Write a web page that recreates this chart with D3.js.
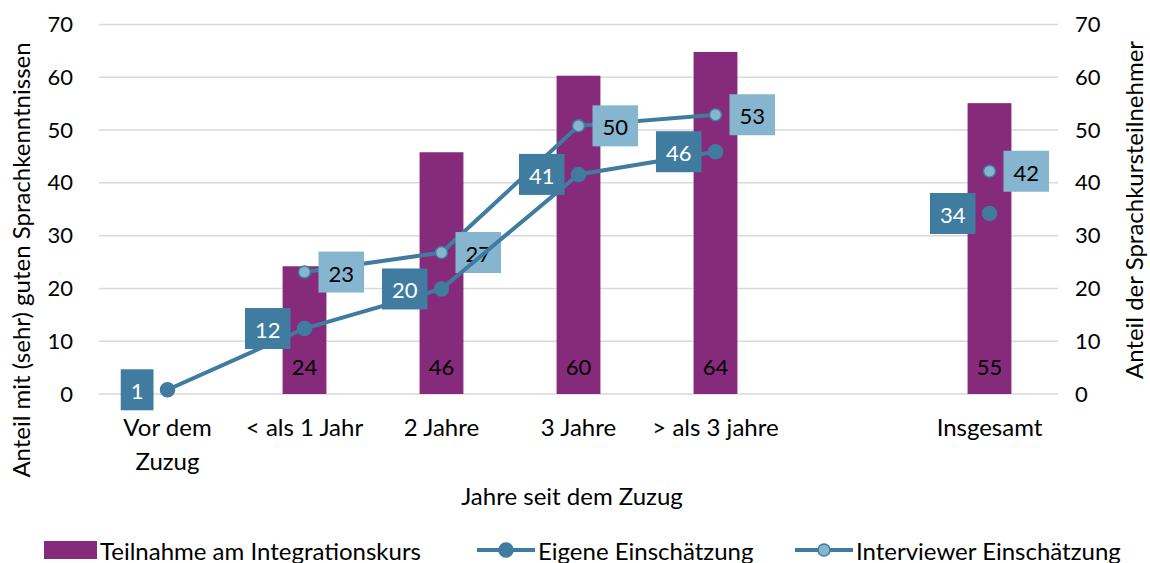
<!DOCTYPE html>
<html>
<head>
<meta charset="utf-8">
<script src="https://cdn.jsdelivr.net/npm/d3@7"></script>
<style>
  body { margin: 0; background: #fff; }
  svg text { font-family: Lato, "Open Sans", sans-serif; fill: #000; }
</style>
</head>
<body>
<div id="chart"></div>
<script>
// categories (empty slot keeps the gap before "Insgesamt")
const categories = ['Vor dem Zuzug', '< als 1 Jahr', '2 Jahre', '3 Jahre', '> als 3 jahre', '', 'Insgesamt']
const tickLabels = [['Vor dem', 'Zuzug'], ['< als 1 Jahr'], ['2 Jahre'], ['3 Jahre'], ['> als 3 jahre'], [''], ['Insgesamt']]

// series
const teilnahme = [null, 24.2, 45.8, 60.3, 64.8, null, 55.1]
const teilnahmeLabels = [null, 24, 46, 60, 64, null, 55]
const eigene = [0.8, 12.4, 19.9, 41.6, 45.9, null, 34.2]
const eigeneLabels = [1, 12, 20, 41, 46, null, 34]
const interviewer = [null, 23.1, 26.8, 50.8, 52.9, null, 42.2]
const interviewerLabels = [null, 23, 27, 50, 53, null, 42]
const yTicks = [0, 10, 20, 30, 40, 50, 60, 70]

const width = 1150
const height = 563
const margin = { top: 24.5, right: 92, bottom: 169, left: 99 }

const purple = '#862b7b'
const darkBlue = '#3f7ca0'
const lightBlue = '#86b5cf'
const numSize = 22
const textSize = 24

const svg = d3
  .select('#chart')
  .append('svg')
  .attr('width', width)
  .attr('height', height)

const x = d3
  .scaleBand()
  .domain(categories)
  .range([margin.left, width - margin.right])
  .paddingInner(0.68)
  .paddingOuter(0.34)

const y = d3
  .scaleLinear()
  .domain([0, 70])
  .range([height - margin.bottom, margin.top])

const cx = (i) => x(categories[i]) + x.bandwidth() / 2

// gridlines
svg
  .append('g')
  .selectAll('line')
  .data(yTicks)
  .enter()
  .append('line')
  .attr('x1', margin.left)
  .attr('x2', width - margin.right)
  .attr('y1', (d) => y(d))
  .attr('y2', (d) => y(d))
  .attr('stroke', '#d9d9d9')
  .attr('stroke-width', 1.5)

// left axis
const leftAxis = svg
  .append('g')
  .attr('transform', `translate(${margin.left},0)`)
  .call(d3.axisLeft(y).tickValues(yTicks).tickSize(0).tickPadding(26))
leftAxis.select('.domain').remove()
leftAxis.selectAll('text').attr('font-size', numSize).attr('font-family', 'Lato')

// right axis
const rightAxis = svg
  .append('g')
  .attr('transform', `translate(${width - margin.right},0)`)
  .call(d3.axisRight(y).tickValues(yTicks).tickSize(0).tickPadding(17))
rightAxis.select('.domain').remove()
rightAxis.selectAll('text').attr('font-size', numSize).attr('font-family', 'Lato')

// x tick labels
const xt = svg
  .append('g')
  .selectAll('text')
  .data(tickLabels)
  .enter()
  .append('text')
  .attr('text-anchor', 'middle')
  .attr('font-size', textSize)
  .attr('x', (d, i) => cx(i))
  .attr('y', 436)
xt.selectAll('tspan')
  .data((d) => d)
  .enter()
  .append('tspan')
  .attr('x', function () {
    return this.parentNode.getAttribute('x')
  })
  .attr('dy', (d, i) => (i === 0 ? 0 : 34))
  .text((d) => d)

// axis titles
svg
  .append('text')
  .attr('text-anchor', 'middle')
  .attr('font-size', textSize)
  .attr('x', 572)
  .attr('y', 505)
  .text('Jahre seit dem Zuzug')

svg
  .append('text')
  .attr('text-anchor', 'middle')
  .attr('font-size', textSize)
  .attr('transform', 'translate(30,260) rotate(-90)')
  .text('Anteil mit (sehr) guten Sprachkenntnissen')

svg
  .append('text')
  .attr('text-anchor', 'middle')
  .attr('font-size', textSize)
  .attr('transform', 'translate(1143,210) rotate(-90)')
  .text('Anteil der Sprachkursteilnehmer')

// bars
const barData = teilnahme.map((v, i) => ({ i, v, label: teilnahmeLabels[i] })).filter((d) => d.v != null)

svg
  .append('g')
  .selectAll('rect')
  .data(barData)
  .enter()
  .append('rect')
  .attr('x', (d) => x(categories[d.i]))
  .attr('width', x.bandwidth())
  .attr('y', (d) => y(d.v))
  .attr('height', (d) => y(0) - y(d.v))
  .attr('fill', purple)

svg
  .append('g')
  .selectAll('text')
  .data(barData)
  .enter()
  .append('text')
  .attr('text-anchor', 'middle')
  .attr('font-size', numSize)
  .attr('x', (d) => cx(d.i))
  .attr('y', y(0) - 19)
  .text((d) => d.label)

// lines
const line = d3
  .line()
  .defined((d) => d.v != null)
  .x((d) => cx(d.i))
  .y((d) => y(d.v))

function drawSeries (values, labels, markerFill, boxFill, textFill, side) {
  const data = values.map((v, i) => ({ i, v, label: labels[i] }))
  const pts = data.filter((d) => d.v != null)
  const g = svg.append('g')

  g.append('path')
    .datum(data)
    .attr('d', line)
    .attr('fill', 'none')
    .attr('stroke', darkBlue)
    .attr('stroke-width', 4)

  g.selectAll('circle')
    .data(pts)
    .enter()
    .append('circle')
    .attr('cx', (d) => cx(d.i))
    .attr('cy', (d) => y(d.v))
    .attr('r', markerFill === darkBlue ? 7 : 6)
    .attr('fill', markerFill)
    .attr('stroke', darkBlue)
    .attr('stroke-width', 1.5)

  const lab = g
    .selectAll('.lab')
    .data(pts)
    .enter()
    .append('g')
    .attr('class', 'lab')

  lab.each(function (d) {
    const el = d3.select(this)
    const t = el
      .append('text')
      .attr('font-size', numSize)
      .attr('text-anchor', 'middle')
      .attr('dominant-baseline', 'central')
      .style('fill', textFill)
      .text(d.label)
    const w = t.node().getComputedTextLength() + 20
    const h = 41
    const px = cx(d.i)
    const py = y(d.v)
    const bx = side < 0 ? px - 14 - w : px + 14
    el.insert('rect', 'text')
      .attr('x', bx)
      .attr('y', py - h / 2)
      .attr('width', w)
      .attr('height', h)
      .attr('fill', boxFill)
    t.attr('x', bx + w / 2).attr('y', py + 1)
  })
}

drawSeries(interviewer, interviewerLabels, lightBlue, lightBlue, '#000', 1)
drawSeries(eigene, eigeneLabels, darkBlue, darkBlue, '#fff', -1)

// legend
const legend = svg.append('g').attr('transform', 'translate(0,550)')
legend
  .append('rect')
  .attr('x', 44)
  .attr('y', -9)
  .attr('width', 53)
  .attr('height', 18)
  .attr('fill', purple)
legend
  .append('text')
  .attr('x', 100)
  .attr('y', 0)
  .attr('dominant-baseline', 'central')
  .attr('font-size', textSize)
  .text('Teilnahme am Integrationskurs')

const lineItems = [
  { x0: 477, label: 'Eigene Einschätzung', fill: darkBlue, r: 7 },
  { x0: 795, label: 'Interviewer Einschätzung', fill: lightBlue, r: 6 }
]
lineItems.forEach((d) => {
  legend
    .append('line')
    .attr('x1', d.x0)
    .attr('x2', d.x0 + 58)
    .attr('stroke', darkBlue)
    .attr('stroke-width', 4)
  legend
    .append('circle')
    .attr('cx', d.x0 + 29)
    .attr('r', d.r)
    .attr('fill', d.fill)
    .attr('stroke', darkBlue)
    .attr('stroke-width', 1.5)
  legend
    .append('text')
    .attr('x', d.x0 + 61)
    .attr('dominant-baseline', 'central')
    .attr('font-size', textSize)
    .text(d.label)
})
</script>
</body>
</html>
